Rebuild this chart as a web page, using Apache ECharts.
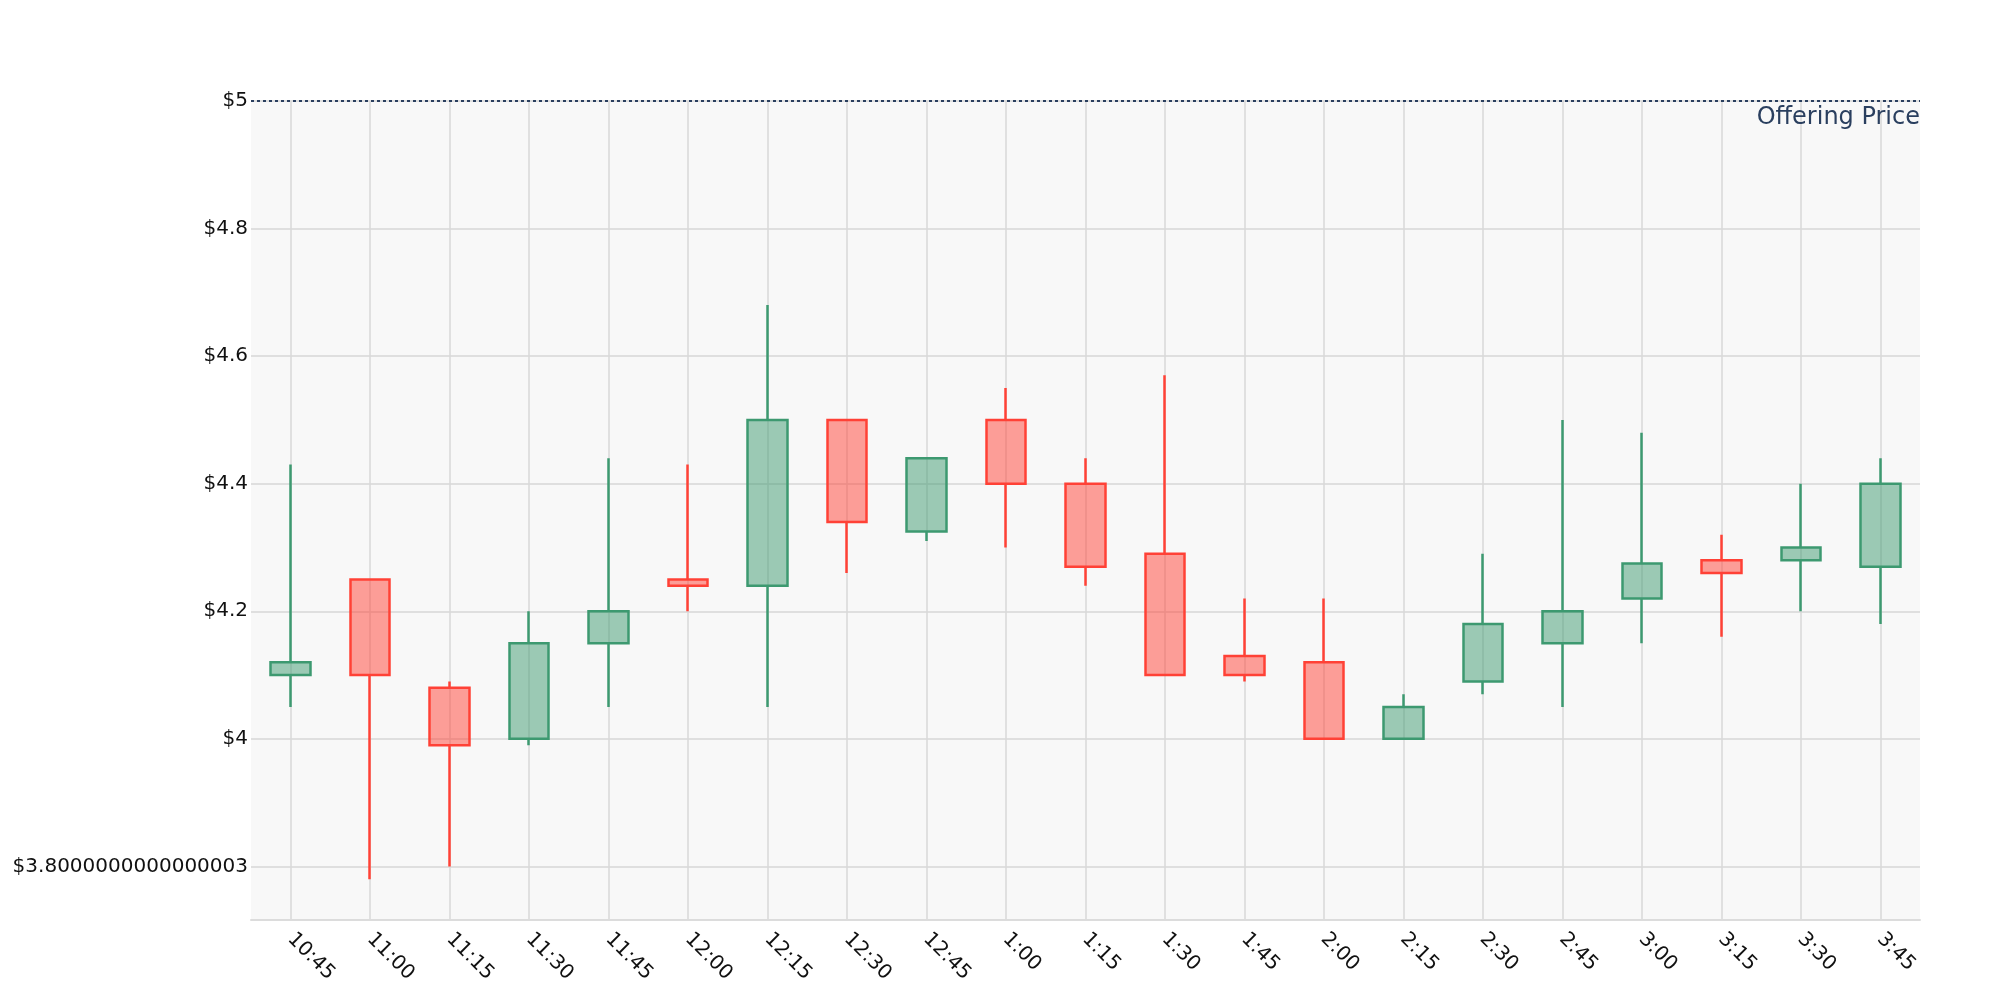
<!DOCTYPE html>
<html><head><meta charset="utf-8">
<script src="https://cdn.jsdelivr.net/npm/echarts@6/dist/echarts.min.js"></script>
<style>html,body{margin:0;padding:0;background:#fff}#c{width:2000px;height:1000px}</style>
</head><body><div id="c"></div>
<script>
const categories = ['10:45','11:00','11:15','11:30','11:45','12:00','12:15','12:30','12:45','1:00','1:15','1:30','1:45','2:00','2:15','2:30','2:45','3:00','3:15','3:30','3:45'];
const openVals  = [4.10, 4.25, 4.08, 4.00, 4.15, 4.25, 4.24, 4.50, 4.325, 4.50, 4.40, 4.29, 4.13, 4.12, 4.00, 4.09, 4.15, 4.22, 4.28, 4.28, 4.27];
const closeVals = [4.12, 4.10, 3.99, 4.15, 4.20, 4.24, 4.50, 4.34, 4.44, 4.40, 4.27, 4.10, 4.10, 4.00, 4.05, 4.18, 4.20, 4.275, 4.26, 4.30, 4.40];
const lowVals   = [4.05, 3.78, 3.80, 3.99, 4.05, 4.20, 4.05, 4.26, 4.31, 4.30, 4.24, 4.10, 4.09, 4.00, 4.00, 4.07, 4.05, 4.15, 4.16, 4.20, 4.18];
const highVals  = [4.43, 4.25, 4.09, 4.20, 4.44, 4.43, 4.68, 4.50, 4.44, 4.55, 4.44, 4.57, 4.22, 4.22, 4.07, 4.29, 4.50, 4.48, 4.32, 4.40, 4.44];
const yTickValues = [3.8, 4.0, 4.2, 4.4, 4.6, 4.8, 5.0];
const yTickLabels = ['$3.8000000000000003', '$4', '$4.2', '$4.4', '$4.6', '$4.8', '$5'];
const yMin = 3.716, yMax = 5;
const offeringPrice = 5;
const offeringLabel = 'Offering Price';

const candleData = categories.map((c, i) => [openVals[i], closeVals[i], lowVals[i], highVals[i]]);
const FONT = 'DejaVu Sans';
const chart = echarts.init(document.getElementById('c'), null, {renderer: 'canvas'});
chart.setOption({
  animation: false,
  backgroundColor: '#fff',
  grid: {left: 251, right: 80, top: 101, bottom: 80, show: true, backgroundColor: '#f8f8f8', borderWidth: 0},
  xAxis: {
    type: 'category', data: categories, boundaryGap: true,
    axisLine: {show: true, lineStyle: {color: '#dcdcdc', width: 2}},
    axisTick: {show: false, alignWithLabel: true},
    splitLine: {show: true, alignWithLabel: true, lineStyle: {color: '#d8d8d8', width: 1.5}},
    axisLabel: {rotate: -45, fontFamily: FONT, fontSize: 20, color: '#111', margin: 16, interval: 0}
  },
  yAxis: {
    type: 'value', min: yMin, max: yMax, splitNumber: 6, scale: true,
    axisLine: {show: false}, axisTick: {show: false},
    splitLine: {show: true, lineStyle: {color: '#dfdfdf', width: 2}},
    axisLabel: {
      fontFamily: FONT, fontSize: 20, color: '#111', margin: 3, showMinLabel: true,
      formatter: function (v) {
        for (let i = 0; i < yTickValues.length; i++) {
          if (Math.abs(v - yTickValues[i]) < 1e-6) return yTickLabels[i];
        }
        return '';
      }
    }
  },
  series: [{
    type: 'candlestick', data: candleData, barWidth: 40,
    itemStyle: {
      color: 'rgba(61,153,112,0.5)', borderColor: '#3D9970',
      color0: 'rgba(255,65,54,0.5)', borderColor0: '#FF4136', borderWidth: 2.5
    },
    markLine: {
      silent: true, symbol: ['none', 'none'],
      lineStyle: {color: '#2a3f5f', width: 2, type: [3, 3]},
      label: {show: true, position: 'insideEndBottom', formatter: offeringLabel, fontFamily: FONT, fontSize: 24, color: '#2a3f5f', distance: [0, 5]},
      data: [{yAxis: offeringPrice}]
    }
  }]
});
</script></body></html>
